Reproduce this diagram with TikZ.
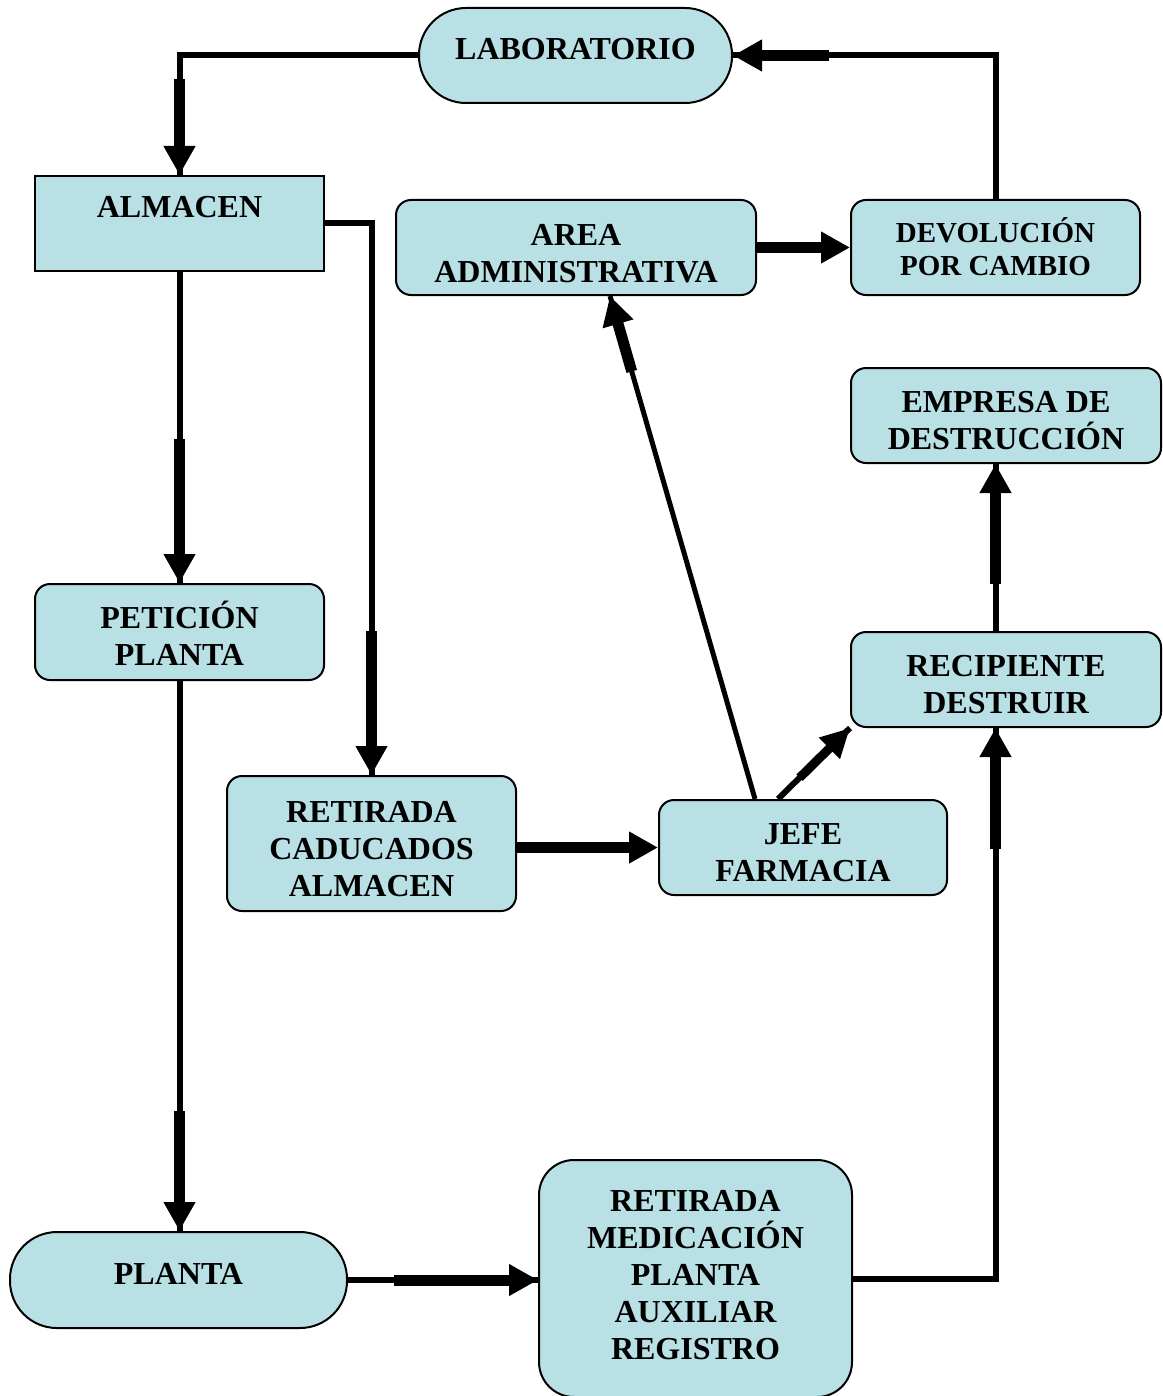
\documentclass[tikz,border=0pt]{standalone}
\usepackage{fontspec}
\setmainfont{Liberation Serif}
\usetikzlibrary{arrows.meta,calc}
\definecolor{boxfill}{RGB}{185,224,228}
\begin{document}
\begin{tikzpicture}[x=0.5pt,y=-0.5pt,
  box/.style={draw, line width=1pt, fill=boxfill, rounded corners=7.5pt, inner sep=0pt},
  stadium/.style={box, rounded corners=23.5pt},
  sharpbox/.style={box, sharp corners},
  txt/.style={font=\fontsize{16pt}{18.5pt}\selectfont\bfseries, align=center, inner sep=0pt},
  smalltxt/.style={font=\fontsize{14.5pt}{16.5pt}\selectfont\bfseries, align=center, inner sep=0pt},
  thinln/.style={line width=3pt},
  slimln/.style={line width=2.5pt},
  thickarr/.style={line width=5.5pt, -{Triangle[length=14.5pt,width=15pt]}},
  thickarrb/.style={line width=4.5pt, -{Triangle[length=14.5pt,width=14pt]}}
]
\useasboundingbox (0,0) rectangle (1162,1396);

% boxes
\node[stadium, minimum width=156.5pt, minimum height=47.5pt,
  label={[txt,yshift=3.25pt]center:LABORATORIO}] (lab) at (575.5,55.5) {};
\node[sharpbox, minimum width=144.5pt, minimum height=47.5pt,
  label={[txt,yshift=8pt]center:ALMACEN}] (alm) at (179.5,223.5) {};
\node[box, minimum width=180pt, minimum height=47.5pt,
  label={[txt,yshift=-3pt]center:AREA\\ADMINISTRATIVA}] (area) at (576,247.5) {};
\node[box, minimum width=144.5pt, minimum height=47.5pt,
  label={[smalltxt,yshift=0.25pt]center:DEVOLUCIÓN\\POR CAMBIO}] (dev) at (995.5,247.5) {};
\node[box, minimum width=155pt, minimum height=47.5pt,
  label={[txt,yshift=-2.5pt]center:EMPRESA DE\\DESTRUCCIÓN}] (emp) at (1006,415.5) {};
\node[box, minimum width=155pt, minimum height=47.5pt,
  label={[txt,yshift=-2.5pt]center:RECIPIENTE\\DESTRUIR}] (rec) at (1006,679.5) {};
\node[box, minimum width=144.5pt, minimum height=48pt,
  label={[txt,yshift=-0.5pt]center:PETICIÓN\\PLANTA}] (pet) at (179.5,632) {};
\node[box, minimum width=144.5pt, minimum height=67.5pt,
  label={[txt,yshift=-2.75pt]center:RETIRADA\\CADUCADOS\\ALMACEN}] (ret) at (371.5,843.5) {};
\node[box, minimum width=144pt, minimum height=47.5pt,
  label={[txt,yshift=-2.5pt]center:JEFE\\FARMACIA}] (jefe) at (803,847.5) {};
\node[stadium, minimum width=168.5pt, minimum height=48pt, rounded corners=23.5pt,
  label={[txt,yshift=3.25pt]center:PLANTA}] (planta) at (178.5,1280) {};
\node[box, minimum width=156.5pt, minimum height=118.5pt, rounded corners=17.5pt,
  label={[txt,yshift=1.5pt]center:RETIRADA\\MEDICACIÓN\\PLANTA\\AUXILIAR\\REGISTRO}] (med) at (695.5,1278.5) {};

% helper coordinates
\coordinate (plin) at (pet.south |- planta.north);
\coordinate (medin) at (planta.east -| med.west);
\coordinate (recin) at (dev.north |- rec.south);
\coordinate (recout) at (dev.north |- rec.north);
\coordinate (empin) at (dev.north |- emp.south);
\coordinate (jefeA) at ([xshift=-24pt]jefe.north);
\coordinate (areaIn) at ([xshift=17pt]area.south);
\coordinate (jefeB) at ([xshift=-12.5pt]jefe.north);
\coordinate (retout) at (jefe.west -| ret.east);

% 1 laboratorio -> almacen
\draw[thinln] (lab.west) -| (alm.north);
\draw[thickarr] ($(alm.north)+(0,-96)$) -- (alm.north);
% 2 devolucion -> laboratorio
\draw[thinln] (dev.north) |- (lab.east);
\draw[thickarr] ($(lab.east)+(96,0)$) -- (lab.east);
% 3 area -> devolucion
\draw[thickarr] (area.east) -- (dev.west);
% 4 almacen -> peticion
\draw[thinln] (alm.south) -- (pet.north);
\draw[thickarr] ($(pet.north)+(0,-144)$) -- (pet.north);
% 5 almacen -> retirada caducados
\draw[thinln] (alm.east) -| (ret.north);
\draw[thickarr] ($(ret.north)+(0,-144)$) -- (ret.north);
% 6 peticion -> planta
\draw[thinln] (pet.south) -- (plin);
\draw[thickarr] ($(plin)+(0,-120)$) -- (plin);
% 7 planta -> retirada medicacion
\draw[thinln] (planta.east) -- (medin);
\draw[thickarr] ($(medin)+(-144,0)$) -- (medin);
% 8 retirada medicacion -> recipiente
\draw[thinln] (med.east) -| (recin);
\draw[thickarr] ($(recin)+(0,121)$) -- (recin);
% 9 recipiente -> empresa
\draw[thinln] (recout) -- (empin);
\draw[thickarr] ($(empin)+(0,120)$) -- (empin);
% 10 retirada caducados -> jefe
\draw[thickarr] (retout) -- (jefe.west);
% 11 jefe -> area
\draw[slimln] (jefeA) -- (areaIn);
\draw[thickarr] ($(areaIn)!0.15!(jefeA)$) -- (areaIn);
% 12 jefe -> recipiente
\draw[thinln] (jefeB) -- (rec.south west);
\draw[thickarrb] ($(jefeB)!0.3!(rec.south west)$) -- (rec.south west);
\end{tikzpicture}
\end{document}
